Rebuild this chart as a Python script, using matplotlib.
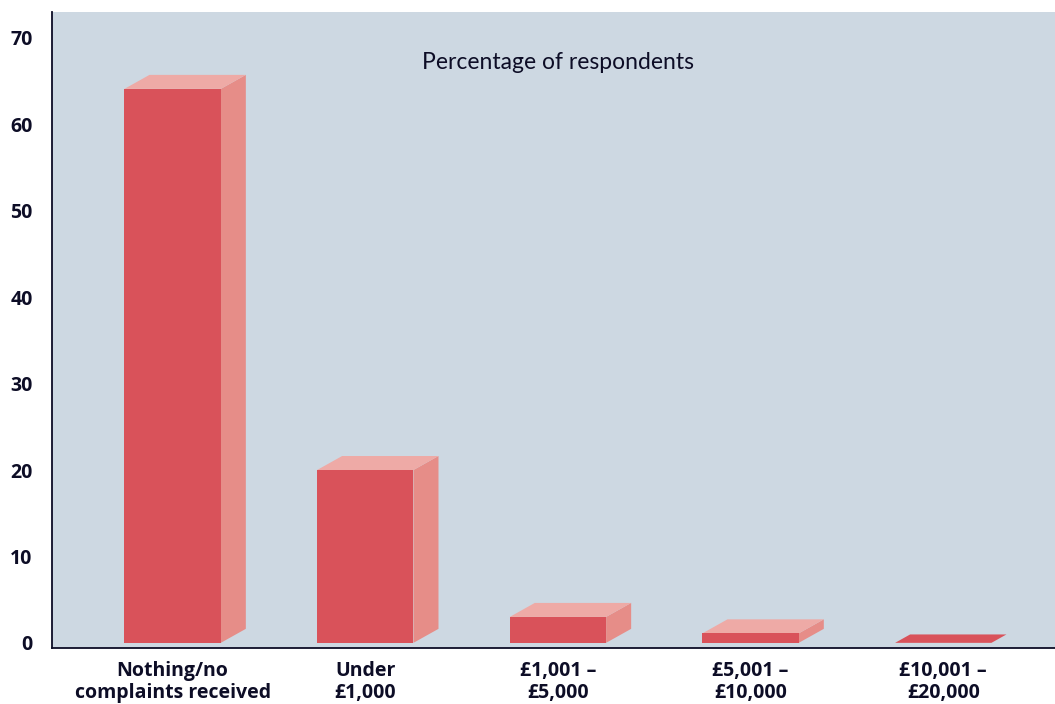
import matplotlib.pyplot as plt
from matplotlib.patches import Polygon

categories = ["Nothing/no\ncomplaints received", "Under\n£1,000", "£1,001 –\n£5,000",
              "£5,001 –\n£10,000", "£10,001 –\n£20,000"]
percentages = [64.1, 20.0, 3.0, 1.1, 0.0]

front_col = "#d9525a"
side_col = "#e68d88"
top_col = "#eeaaa6"
text_col = "#0d0d26"

plt.rcParams["font.family"] = ["Lato", "DejaVu Sans"]
label_font = ["Open Sans", "DejaVu Sans"]

fig = plt.figure(figsize=(10.55, 7.04), dpi=100)
ax = fig.add_axes([0.0493, 0.0795, 0.9507, 0.9035])
ax.set_facecolor("#cdd8e2")

width = 0.5
dx, dy = 0.13, 1.62   # depth offset of the fake 3d boxes
xs = list(range(len(categories)))

ax.bar(xs, percentages, width=width, color=front_col, zorder=3)
for x, v in zip(xs, percentages):
    l, r = x - width / 2, x + width / 2
    if v > 0.5:
        side = Polygon([(r, 0), (r + dx, dy), (r + dx, v + dy), (r, v)], closed=True,
                       facecolor=side_col, edgecolor="none", zorder=2)
        top = Polygon([(l, v), (l + dx, v + dy), (r + dx, v + dy), (r, v)], closed=True,
                      facecolor=top_col, edgecolor="none", zorder=2)
        ax.add_patch(side)
    else:
        # a flat bar is only a thin slab lying on the floor
        top = Polygon([(l, v), (l + dx * 0.6, v + dy * 0.6), (r + dx * 0.6, v + dy * 0.6), (r, v)],
                      closed=True, facecolor=front_col, edgecolor="none", zorder=2)
    ax.add_patch(top)

ax.set_xlim(-0.626, 4.58)
ax.set_ylim(-0.6, 73.0)
ax.set_yticks(range(0, 71, 10))
ax.set_xticks(xs)
ax.set_xticklabels(categories, fontsize=14, fontweight="bold", color=text_col,
                   linespacing=1.15, family=label_font)
ax.tick_params(axis="y", length=0, pad=14, labelcolor=text_col)
ax.tick_params(axis="x", length=0, pad=9)
for lab in ax.get_yticklabels():
    lab.set_fontweight("bold")
    lab.set_family(label_font)
    lab.set_fontsize(14)

for s in ["top", "right"]:
    ax.spines[s].set_visible(False)
ax.spines["left"].set_color(text_col)
ax.spines["bottom"].set_color(text_col)
ax.spines["left"].set_linewidth(1.3)
ax.spines["bottom"].set_linewidth(1.3)

ax.text(0.504, 0.921, "Percentage of respondents", transform=ax.transAxes,
        ha="center", va="center", fontsize=16.5, color=text_col)

fig.savefig("out.png", dpi=100)
